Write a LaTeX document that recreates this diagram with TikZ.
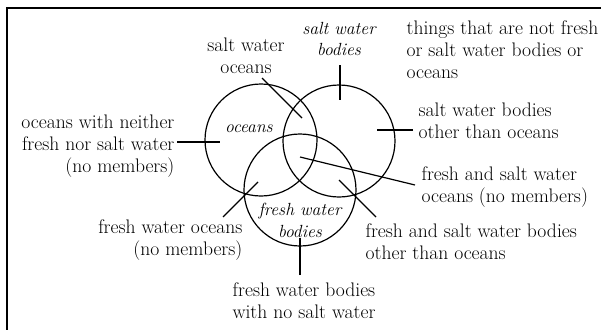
\documentclass[tikz,border=0pt]{standalone}
\usepackage{fontspec}
\usetikzlibrary{positioning}
\tikzset{
    venn/.style={
        x=1pt, y=-1pt,
        region/.style={circle, draw, line width=1.2pt, minimum size=112pt, inner sep=0pt},
        note/.style={inner sep=0pt, font=\fontsize{19.6}{21.7}\selectfont},
        setname/.style={inner sep=0pt, align=center, font=\itshape\fontsize{17.6}{21.7}\selectfont},
        every path/.style={line width=1.2pt},
    },
}

\begin{document}
\begin{tikzpicture}[venn]
    \useasboundingbox (0,0) rectangle (601,329);
    \draw[line width=2pt] (7,340) -- (7,8) -- (610,8);

    % the three sets
    \node[region] (oceans) at (261,140) {};
    \node[region] (salt)   at (339,141) {};
    \node[region] (fresh)  at (300,190) {};

    \node[setname, anchor=base] (oceansname) at (249,132) {oceans};
    \node[setname, anchor=base] (saltname)   at (339,56)  {salt water\\bodies};
    \node[setname, anchor=base] (freshname)  at (300,237) {fresh water\\bodies};

    % region labels (base = last line)
    \node[note, align=center, anchor=base] (saltoceans) at (246,73) {salt water\\oceans};
    \node[note, align=left, anchor=base west] (things) at (406,78) {things that are not fresh\\or salt water bodies or\\oceans};
    \node[note, align=left, anchor=base west] (saltother) at (418,138) {salt water bodies\\other than oceans};
    \node[note, align=right, anchor=base east] (neither) at (175,172) {oceans with neither\\fresh nor salt water\\(no members)};
    \node[note, align=right, anchor=base east] (freshoceans) at (243,255) {fresh water oceans\\(no members)};
    \node[note, align=left, anchor=base west] (freshsalt) at (421,202) {fresh and salt water\\oceans (no members)};
    \node[note, align=left, anchor=base west] (freshsaltother) at (365,259) {fresh and salt water bodies\\other than oceans};
    \node[note, align=center, anchor=base] (freshonly) at (304,318) {fresh water bodies\\with no salt water};

    % pointers
    \coordinate (p1) at (262,78);  \coordinate (q1) at (302,118);
    \coordinate (p2) at (340,65);  \coordinate (q2) at (340,100);
    \coordinate (p3) at (413,130); \coordinate (q3) at (377,130);
    \coordinate (p4) at (177,142); \coordinate (q4) at (220,142);
    \coordinate (p5) at (223,217); \coordinate (q5) at (258,182);
    \coordinate (p6) at (415,185); \coordinate (q6) at (300,157);
    \coordinate (p7) at (376,217); \coordinate (q7) at (339,180);
    \coordinate (p8) at (300,275); \coordinate (q8) at (300,238);
    \draw (p1) -- (q1);
    \draw (p2) -- (q2);
    \draw (p3) -- (q3);
    \draw (p4) -- (q4);
    \draw (p5) -- (q5);
    \draw (p6) -- (q6);
    \draw (p7) -- (q7);
    \draw (p8) -- (q8);
\end{tikzpicture}
\end{document}
